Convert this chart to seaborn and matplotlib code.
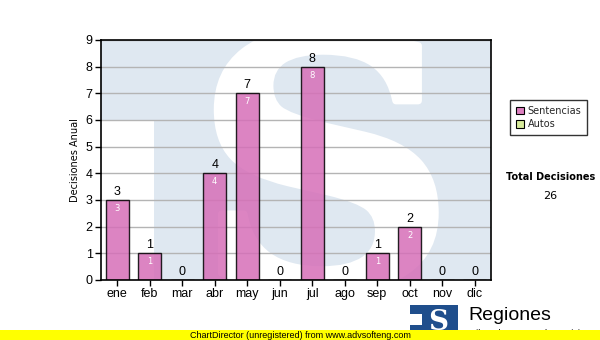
import matplotlib
matplotlib.use("Agg")
import matplotlib.pyplot as plt
import seaborn as sns
import pandas as pd
from matplotlib.patches import Rectangle, PathPatch, Patch
from matplotlib.textpath import TextPath
from matplotlib.font_manager import FontProperties
from matplotlib.transforms import Affine2D

months = ["ene", "feb", "mar", "abr", "may", "jun", "jul", "ago", "sep", "oct", "nov", "dic"]
sentencias = [3, 1, 0, 4, 7, 0, 8, 0, 1, 2, 0, 0]
autos = [0, 0, 0, 0, 0, 0, 0, 0, 0, 0, 0, 0]
series_names = ["Sentencias", "Autos"]
total_label = "Total Decisiones"
y_label = "Decisiones Anual"

sns.set_theme(style="white")
plt.rcParams["font.family"] = ["Liberation Sans", "DejaVu Sans"]

W, H = 600, 340
fig = plt.figure(figsize=(W / 100, H / 100), dpi=100)
fig.patch.set_facecolor("white")


def fx(px):
    return px / W


def fy(py):
    return (H - py) / H


ax = fig.add_axes([fx(101), fy(280), 390 / W, 240 / H])
ax.set_facecolor("white")

df = pd.DataFrame({"mes": months, "Sentencias": sentencias, "Autos": autos})
df["total"] = df["Sentencias"] + df["Autos"]

pink = "#d66fb8"
green = "#d8ec9c"
wm = "#dfe8f1"

sns.barplot(data=df, x="mes", y="Sentencias", color=pink, width=0.7,
            edgecolor="black", linewidth=1.0, alpha=0.85, saturation=1, ax=ax, zorder=3)
for p in ax.patches:
    p.set_edgecolor((0, 0, 0, 1))

ax.set_xlim(-0.5, 11.5)
ax.set_ylim(0, 9)
ax.set_yticks(range(0, 10))


def px2x(px):
    return (px - 116) / 32.5


def py2y(py):
    return (280 - py) / 26.667


# watermark (logo) in plot background: light blue field, white notch, white S
ax.add_patch(Rectangle((-1, -1), 14, 11, facecolor=wm, edgecolor="none", zorder=0))
ax.add_patch(Rectangle((-1, -1), px2x(153) + 1, py2y(120) + 1, facecolor="white",
                       edgecolor="none", zorder=0.1))
tp = TextPath((0, 0), "S", size=1, prop=FontProperties(family="DejaVu Serif", weight="bold"))
ext = tp.get_extents()
x0, x1, y0, y1 = px2x(216), px2x(434), py2y(290), py2y(31)
tr = Affine2D().translate(-ext.x0, -ext.y0).scale((x1 - x0) / ext.width, (y1 - y0) / ext.height).translate(x0, y0)
ax.add_patch(PathPatch(tr.transform_path(tp), facecolor="white", edgecolor="white",
                       linewidth=5, joinstyle="round", zorder=0.2))

ax.set_axisbelow(True)
ax.yaxis.grid(True, color="#b4b4b4", linewidth=1.0, zorder=1)
ax.xaxis.grid(False)
for s in ax.spines.values():
    s.set_color("black")
    s.set_linewidth(1.2)
    s.set_zorder(5)

ax.tick_params(axis="both", which="both", length=4, width=1, color="black",
               labelsize=9, labelcolor="black", pad=2, left=True, bottom=True, direction="out")
ax.set_xlabel("")
ax.set_ylabel(y_label, fontsize=7, color="black", labelpad=4, family="DejaVu Sans")

for i, (v, t) in enumerate(zip(df["Sentencias"], df["total"])):
    ax.text(i, t + 0.08, str(t), ha="center", va="bottom", fontsize=9, color="black", zorder=6)
    if v > 0:
        ax.text(i, v - 0.15, str(v), ha="center", va="top", fontsize=6, color="white",
                family="DejaVu Sans", zorder=6)

# legend
handles = [Patch(facecolor="#dd80c0", edgecolor="black", linewidth=0.8),
           Patch(facecolor=green, edgecolor="black", linewidth=0.8)]
leg = fig.legend(handles, series_names, loc="upper left", bbox_to_anchor=(fx(510), fy(100)),
                 frameon=True, fancybox=False, edgecolor="black",
                 handlelength=0.8, handleheight=0.8, handletextpad=0.4, labelspacing=0.35,
                 borderpad=0.6, borderaxespad=0, prop={"family": "DejaVu Sans", "size": 7})
leg.get_frame().set_linewidth(1.0)

fig.text(fx(551), fy(177), total_label, ha="center", va="center", fontsize=7,
         fontweight="bold", family="DejaVu Sans", color="black")
fig.text(fx(550), fy(196), str(sum(sentencias) + sum(autos)), ha="center", va="center",
         fontsize=8, family="DejaVu Sans", color="black")

# footer logo
fig.patches.append(Rectangle((fx(410), fy(340)), 48 / W, 35 / H, transform=fig.transFigure,
                             facecolor="#1f4e8c", edgecolor="none", zorder=1))
fig.patches.append(Rectangle((fx(410), fy(325)), 12 / W, 11 / H, transform=fig.transFigure,
                             facecolor="white", edgecolor="none", zorder=1.5))
fig.text(fx(438), fy(323), "S", ha="center", va="center", fontsize=20, fontweight="bold",
         family="DejaVu Serif", color="white", zorder=2)
fig.text(fx(468), fy(316), "Regiones", ha="left", va="center", fontsize=14, color="black", zorder=2)
fig.text(fx(468), fy(334), "Tribunal Supremo de Justicia", ha="left", va="center", fontsize=6.5,
         color="black", zorder=2)

# ChartDirector bar
fig.patches.append(Rectangle((0, 0), 1, 10 / H, transform=fig.transFigure,
                             facecolor="#ffff00", edgecolor="none", zorder=3))
fig.text(fx(300), fy(335), "ChartDirector (unregistered) from www.advsofteng.com", ha="center",
         va="center", fontsize=6.5, color="black", zorder=4)

fig.savefig("out.png", dpi=100)
